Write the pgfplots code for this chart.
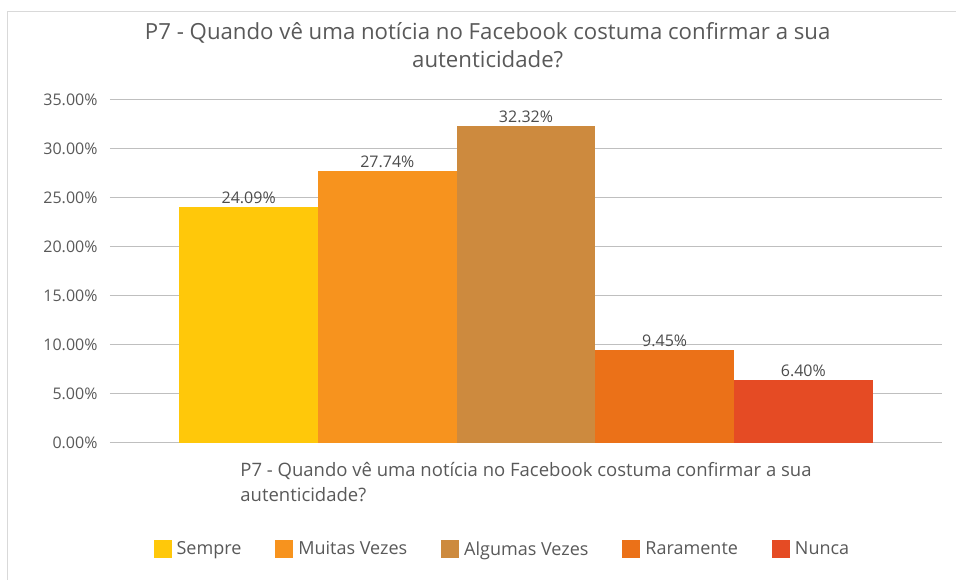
\documentclass[border=0pt]{standalone}
\usepackage{fontspec}
\setmainfont{Open Sans}
\usepackage{pgfplots}
\pgfplotsset{compat=1.18}
\definecolor{txt}{HTML}{595959}
\definecolor{grid}{HTML}{D9D9D9}
\definecolor{cA}{HTML}{FFC80A}
\definecolor{cB}{HTML}{F7931E}
\definecolor{cC}{HTML}{CD8A3E}
\definecolor{cD}{HTML}{EB7118}
\definecolor{cE}{HTML}{E54B24}
\begin{document}
\begin{tikzpicture}
\useasboundingbox (0,0) rectangle (956pt,580pt);
\draw[grid, line width=1pt] (7pt,0) -- (7pt,568pt) -- (956pt,568pt);
\begin{axis}[
  at={(110pt,137pt)}, anchor=south west,
  scale only axis, width=832pt, height=343pt,
  ybar=0pt, bar width=1,
  xmin=-3, xmax=3, ymin=0, ymax=35,
  ytick={0,5,...,35},
  xtick=\empty,
  axis line style={draw=none},
  major tick length=0pt,
  ymajorgrids, grid style={grid, line width=1pt},
  /pgf/number format/assume math mode=true,
  yticklabel={\pgfmathprintnumber[fixed,fixed zerofill,precision=2]{\tick}\%},
  yticklabel style={font=\fontsize{16}{19}\selectfont, text=txt, xshift=-9pt},
  nodes near coords={\pgfmathprintnumber[fixed,fixed zerofill,precision=2]{\pgfplotspointmeta}\%},
  every node near coord/.append style={font=\fontsize{16}{19}\selectfont, text=txt!85!black, yshift=0pt},
  title={P7 - Quando vê uma notícia no Facebook costuma confirmar a sua\\autenticidade?},
  title style={at={(0.454,1.22)}, anchor=north, align=center, font=\fontsize{22.2}{28.5}\selectfont, text=txt},
  xlabel={P7 - Quando vê uma notícia no Facebook costuma confirmar a sua\\autenticidade?},
  xlabel style={at={(0.5,-0.047)}, anchor=north, align=left, font=\fontsize{18.5}{25}\selectfont, text=txt},
  legend columns=5,
  legend style={at={(0.4716,-0.309)}, anchor=center, draw=none, font=\fontsize{18}{21}\selectfont, text=txt,
    /tikz/every even column/.append style={column sep=32pt},
    /tikz/every odd column/.append style={column sep=0pt}},
  legend image code/.code={\fill[#1] (0pt,-9pt) rectangle (18pt,9pt);},
]
\addplot[fill=cA, draw=none] coordinates {(0,24.09)};
\addplot[fill=cB, draw=none] coordinates {(0,27.74)};
\addplot[fill=cC, draw=none] coordinates {(0,32.32)};
\addplot[fill=cD, draw=none] coordinates {(0,9.45)};
\addplot[fill=cE, draw=none] coordinates {(0,6.40)};
\legend{\hspace{3pt}Sempre,\hspace{3pt}Muitas Vezes,\hspace{3pt}Algumas Vezes,\hspace{3pt}Raramente,\hspace{3pt}Nunca}
\end{axis}
\end{tikzpicture}
\end{document}
